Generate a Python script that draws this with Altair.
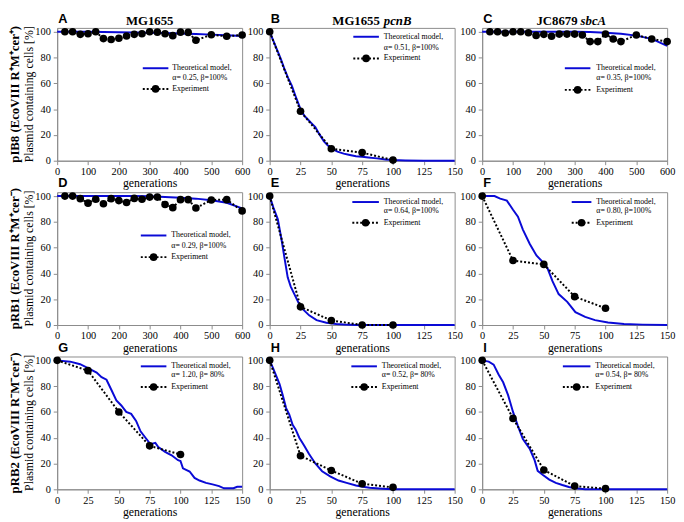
import altair as alt
import pandas as pd

PANEL_W = 188
PANEL_H = 135
YMAX = 103
BLUE = "#0a0ad6"
SERIF = "Liberation Serif"
SANS = "Liberation Sans"

# ---------------- data ----------------
# Panel A: MG1655, pIB8
A_theory_gen = [0, 50, 100, 150, 200, 250, 300, 350, 400, 450, 500, 550, 600]
A_theory_pct = [100, 100, 100, 99.9, 99.7, 99.5, 99.3, 99.0, 98.6, 98.2, 97.8, 97.3, 96.8]
A_exp_gen = [25, 50, 75, 100, 125, 150, 175, 200, 225, 250, 275, 300, 325, 350, 375, 400, 425, 450, 500, 550, 600]
A_exp_pct = [100, 100, 98, 98.5, 100, 94.7, 94, 95, 96.7, 98, 98.5, 100, 99.7, 98.5, 97, 99.7, 99.5, 93.4, 97.7, 96.5, 97.5]

# Panel B: MG1655 pcnB, pIB8
B_theory_gen = [0, 3, 6, 9, 12, 15, 18, 21, 25, 28, 31, 34, 37, 40, 44, 47, 50, 55, 60, 65, 70, 75, 80, 87, 94, 100, 110, 125, 150]
B_theory_pct = [100, 93, 86, 79, 71, 64, 58, 50, 40, 35, 32, 29, 26, 21, 15, 12, 9.5, 7, 5.5, 4.5, 3.5, 3, 2.5, 1.8, 1, 0.5, 0.2, 0, 0]
B_exp_gen = [0, 25, 50, 75, 100]
B_exp_pct = [100, 38.4, 9.3, 6.3, 0.5]

# Panel C: JC8679 sbcA, pIB8
C_theory_gen = [0, 100, 200, 300, 350, 400, 450, 500, 550, 600]
C_theory_pct = [100, 100, 100, 100, 99.8, 99.3, 98.5, 97, 94.5, 89]
C_exp_gen = [25, 50, 75, 100, 125, 150, 175, 200, 225, 250, 275, 300, 325, 350, 375, 400, 425, 450, 500, 550, 600]
C_exp_pct = [100, 100, 99, 100, 100, 99.2, 97.2, 98, 96.5, 98.2, 98.2, 98.2, 97.5, 92.4, 92.4, 98.2, 94.4, 92.4, 97.5, 94.4, 92.4]

# Panel D: MG1655, pRB1
D_theory_gen = [0, 100, 200, 250, 300, 350, 400, 450, 500, 550, 600]
D_theory_pct = [100, 100, 100, 100, 99.8, 99.3, 98.7, 98, 96.7, 94.8, 90.5]
D_exp_gen = [25, 50, 75, 100, 125, 150, 175, 200, 225, 250, 275, 300, 325, 350, 375, 400, 425, 450, 500, 550, 600]
D_exp_pct = [100, 100, 98, 94.5, 97.5, 94, 98, 96.5, 95, 98.2, 97.5, 99.2, 99.2, 93.5, 91, 97.2, 97.2, 90.7, 97, 97.2, 88.5]

# Panel E: MG1655 pcnB, pRB1
E_theory_gen = [0, 3, 6.6, 10, 12, 14.6, 17, 20, 25, 32, 38, 46, 54, 60, 70, 150]
E_theory_pct = [100, 91, 82, 64, 52, 37, 30, 24, 14, 7.5, 3.8, 1.8, 0.8, 0.4, 0, 0]
E_exp_gen = [0, 25, 50, 75, 100]
E_exp_pct = [100, 14.1, 3.5, 0, 0]

# Panel F: JC8679 sbcA, pRB1
F_theory_gen = [0, 10, 14.6, 20, 25, 29, 33, 38.5, 44, 48, 53, 57, 62, 69, 75.6, 83.5, 91.5, 102, 115, 130, 150]
F_theory_pct = [100, 100, 98, 96.5, 89.4, 84, 74, 63, 54, 50, 44, 34, 24, 18, 10, 6.3, 3.8, 2, 0.8, 0.3, 0]
F_exp_gen = [0, 25, 50, 75, 100]
F_exp_pct = [100, 50, 47, 22, 13]

# Panel G: MG1655, pRB2
G_theory_gen = [0, 10.6, 18.6, 25, 32, 36, 40, 44, 48, 52, 56, 60, 64, 67.6, 71.6, 75.6, 79.6, 82, 87.5, 92.8, 98, 100, 102,
                107.4, 111.4, 115.4, 120.7, 126, 131.3, 135.3, 143, 146, 150]
G_theory_pct = [100, 99, 97, 94, 90.5, 87, 85, 77, 69, 65, 60, 58.5, 53, 45, 40, 35, 36, 32.7, 29, 26.4, 22.6, 22, 16.3,
                13.8, 8.8, 6.8, 5, 3.8, 2.5, 0.8, 0.8, 2, 2]
G_exp_gen = [0, 25, 50, 75, 100]
G_exp_pct = [100, 92, 60, 33.7, 27]

# Panel H: MG1655 pcnB, pRB2
H_theory_gen = [0, 2.7, 5.3, 8, 10.6, 13.3, 15.9, 18.6, 21, 24, 27.9, 31.8, 37, 42.5, 49, 55.8, 62.4, 70, 75.6, 81, 91.5, 100, 150]
H_theory_pct = [100, 94, 88, 81.6, 73, 63, 58, 50, 46.5, 40, 34, 27.6, 20, 14, 10, 6.8, 5, 3, 2, 1.2, 0.5, 0, 0]
H_exp_gen = [0, 25, 50, 75, 100]
H_exp_pct = [100, 26, 14.6, 4.3, 1.5]

# Panel I: JC8679 sbcA, pRB2
I_theory_gen = [0, 5.3, 9.3, 13.3, 17, 21, 25, 29, 33, 38.5, 42.5, 45, 49, 54.4, 59.7, 65, 70.3, 75.6, 83.5, 150]
I_theory_pct = [100, 99, 96.7, 89, 83, 73, 60, 49, 39, 31.6, 22.6, 14.3, 11.3, 7.5, 5, 3.3, 1.8, 0.8, 0, 0]
I_exp_gen = [0, 25, 50, 75, 100]
I_exp_pct = [100, 55, 15, 2.5, 0.5]

letters = ["A", "B", "C", "D", "E", "F", "G", "H", "I"]
alpha_labels = ["α= 0.25, β=100%", "α= 0.51, β=100%", "α= 0.35, β=100%",
                "α= 0.29, β=100%", "α= 0.64, β=100%", "α= 0.80, β=100%",
                "α= 1.20, β= 80%", "α= 0.52, β= 80%", "α= 0.54, β= 80%"]
row_titles = ["pIB8 (EcoVIII R⁺M⁺cer⁺)", "pRB1 (EcoVIII R⁺M⁺cer⁻)", "pRB2 (EcoVIII R⁻M⁻cer⁻)"]
y_title = "Plasmid containing cells [%]"
x_title = "generations"
y_ticks = [0, 20, 40, 60, 80, 100]
long_ticks = [0, 100, 200, 300, 400, 500, 600]
short_ticks = [0, 25, 50, 75, 100, 125, 150]

# legend layout (line start, line end, text x, y of 3 lines) in panel pixels
legend_pos = [
    (87, 113, 117, 41, 51, 62),
    (85, 111, 116, 9, 20, 31),
    (84, 110, 116, 41, 51, 63),
    (85, 111, 116, 44, 55, 66),
    (84, 111, 116, 10, 19, 31),
    (91, 111, 116, 10, 19, 31),
    (85, 111, 116, 10, 19, 31),
    (83, 109, 114, 10, 19, 31),
    (82, 110, 115, 10, 19, 31),
]

# column titles: list of (text, x, align, style)
col_titles = [
    [("MG1655", 94, "center", "normal")],
    [("MG1655", 112, "right", "normal"), ("pcnB", 116, "left", "italic")],
    [("JC8679", 97, "right", "normal"), ("sbcA", 100, "left", "italic")],
]

one = pd.DataFrame({"k": [0]})


def txt(text, x, y, **kw):
    return alt.Chart(one).mark_text(text=text, **kw).encode(x=alt.value(x), y=alt.value(y))


def panel(idx, th_g, th_p, ex_g, ex_p, ticks):
    row, col = divmod(idx, 3)
    th = pd.DataFrame({"g": th_g, "p": th_p})
    ex = pd.DataFrame({"g": ex_g, "p": ex_p})
    xenc = alt.X("g:Q", scale=alt.Scale(domain=[0, ticks[-1]], nice=False),
                 axis=alt.Axis(values=ticks, title=x_title, labelFont=SERIF, titleFont=SERIF))
    yenc = alt.Y("p:Q", scale=alt.Scale(domain=[0, YMAX], nice=False),
                 axis=alt.Axis(values=y_ticks, title=None, labelFont=SERIF))
    layers = [
        alt.Chart(th).mark_line(color=BLUE, strokeWidth=2).encode(x=xenc, y=yenc),
        alt.Chart(ex).mark_line(color="black", strokeWidth=2, strokeDash=[2, 2]).encode(x=xenc, y=yenc),
        alt.Chart(ex).mark_point(filled=True, shape="circle", size=60, color="black", opacity=1).encode(x=xenc, y=yenc),
    ]
    lx0, lx1, tx, y1, y2, y3 = legend_pos[idx]
    layers += [
        alt.Chart(one).mark_rule(color=BLUE, strokeWidth=2).encode(
            x=alt.value(lx0), x2=alt.value(lx1), y=alt.value(y1)),
        alt.Chart(one).mark_rule(color="black", strokeWidth=2, strokeDash=[2, 2]).encode(
            x=alt.value(lx0), x2=alt.value(lx1), y=alt.value(y3)),
        alt.Chart(one).mark_point(filled=True, shape="circle", size=60, color="black", opacity=1).encode(
            x=alt.value((lx0 + lx1) / 2), y=alt.value(y3)),
        txt("Theoretical model,", tx, y1, font=SERIF, fontSize=8, align="left", baseline="middle", color="black"),
        txt(alpha_labels[idx], tx, y2, font=SERIF, fontSize=8, align="left", baseline="middle", color="black"),
        txt("Experiment", tx, y3, font=SERIF, fontSize=8, align="left", baseline="middle", color="black"),
        txt(letters[idx], 1, -5, font=SANS, fontSize=13, fontWeight="bold", align="left",
            baseline="alphabetic", color="black"),
    ]
    if row == 0:
        for (t, x, al, st) in col_titles[col]:
            layers.append(txt(t, x, -3, font=SERIF, fontSize=13, fontWeight="bold", fontStyle=st,
                              align=al, baseline="alphabetic", color="black"))
    if col == 0:
        layers.append(txt(y_title, -29, PANEL_H / 2, font=SERIF, fontSize=12, angle=270,
                          align="center", baseline="middle", color="black"))
        layers.append(txt(row_titles[row], -43, PANEL_H / 2, font=SERIF, fontSize=13, fontWeight="bold",
                          angle=270, align="center", baseline="middle", color="black"))
    return alt.layer(*layers).properties(width=PANEL_W, height=PANEL_H)


panels = [
    panel(0, A_theory_gen, A_theory_pct, A_exp_gen, A_exp_pct, long_ticks),
    panel(1, B_theory_gen, B_theory_pct, B_exp_gen, B_exp_pct, short_ticks),
    panel(2, C_theory_gen, C_theory_pct, C_exp_gen, C_exp_pct, long_ticks),
    panel(3, D_theory_gen, D_theory_pct, D_exp_gen, D_exp_pct, long_ticks),
    panel(4, E_theory_gen, E_theory_pct, E_exp_gen, E_exp_pct, short_ticks),
    panel(5, F_theory_gen, F_theory_pct, F_exp_gen, F_exp_pct, short_ticks),
    panel(6, G_theory_gen, G_theory_pct, G_exp_gen, G_exp_pct, short_ticks),
    panel(7, H_theory_gen, H_theory_pct, H_exp_gen, H_exp_pct, short_ticks),
    panel(8, I_theory_gen, I_theory_pct, I_exp_gen, I_exp_pct, short_ticks),
]

chart = alt.concat(
    *panels, columns=3, spacing=alt.RowColnumber(row=32, column=28), bounds="flush"
).properties(padding=0).configure_view(
    stroke="#8c8c8c", strokeWidth=1
).configure_axis(
    grid=False,
    domainColor="#8c8c8c",
    tickColor="#8c8c8c",
    tickSize=4,
    labelFont=SERIF,
    labelFontSize=10.5,
    labelColor="black",
    labelPadding=2,
    labelFlush=False,
    labelOverlap=False,
    titleFont=SERIF,
    titleFontSize=12,
    titleFontWeight="normal",
    titleColor="black",
    titlePadding=1,
).configure_axisY(labelPadding=3)

chart.save("out.html", embed_options={"renderer": "svg", "actions": False})
